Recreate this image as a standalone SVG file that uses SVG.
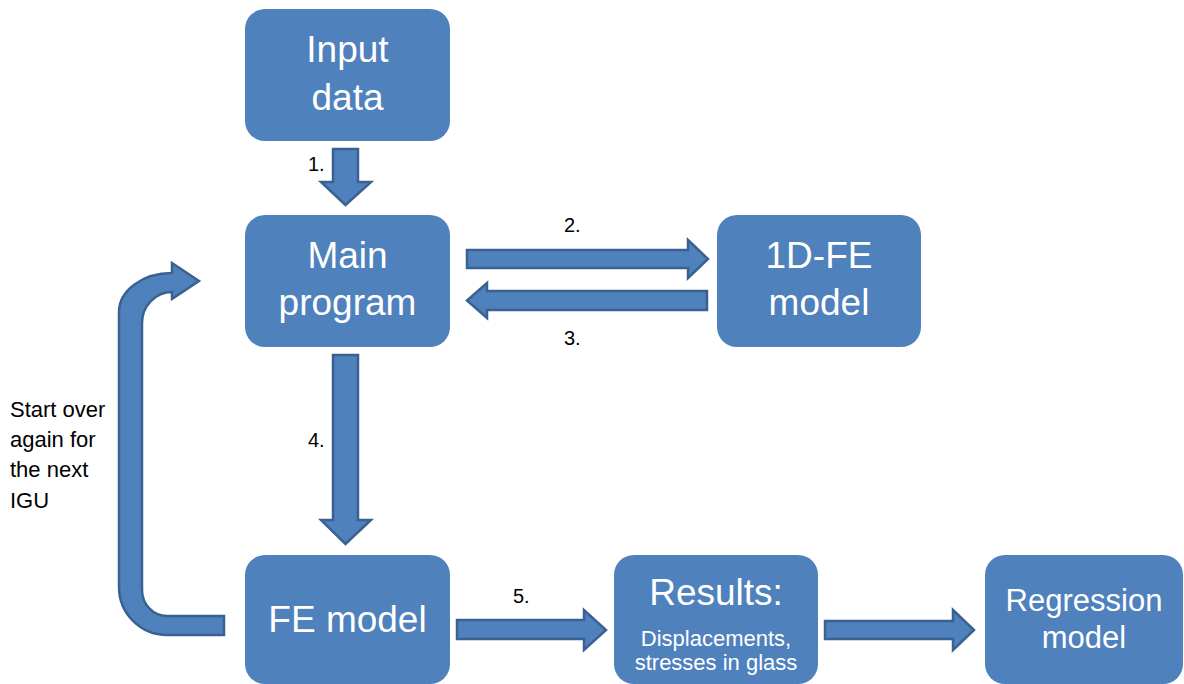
<svg xmlns="http://www.w3.org/2000/svg" width="1184" height="684" viewBox="0 0 1184 684">
<style>
.box{fill:#4F81BD;}
.big{font-family:"Liberation Sans",Arial,sans-serif;font-size:37px;fill:#fff;text-anchor:middle;}
.mid{font-family:"Liberation Sans",Arial,sans-serif;font-size:31px;fill:#fff;text-anchor:middle;}
.small{font-family:"Liberation Sans",Arial,sans-serif;font-size:22px;fill:#fff;text-anchor:middle;}
.lbl{font-family:"Liberation Sans",Arial,sans-serif;font-size:20px;fill:#000;}
.note{font-family:"Liberation Sans",Arial,sans-serif;font-size:22px;fill:#000;}
.arrow{fill:#4F81BD;stroke:#3A6190;stroke-width:2.5;stroke-linejoin:miter;}
</style>
<rect width="1184" height="684" fill="#fff"/>
<g id="connectors">
<polygon class="arrow" points="333,149 358,149 358,182 371,182 345.5,205 321,182 333,182"/>
<polygon class="arrow" points="467,250 688,250 688,240 708,259 688,278 688,268 467,268"/>
<polygon class="arrow" points="707,291 487,291 487,283 467,300.5 487,318 487,310 707,310"/>
<polygon class="arrow" points="333,355 358,355 358,520 371,520 345.5,544 321,520 333,520"/>
<polygon class="arrow" points="457,620 584,620 584,610 606,630 584,650 584,639 457,639"/>
<polygon class="arrow" points="825,621 953,621 953,610 974,630 953,650 953,639 825,639"/>
<path class="arrow" d="M 224 616 L 167 616 A 25 26 0 0 1 142 590 L 142 323 A 30 31 0 0 1 172 292 L 172 299 L 199 281 L 172 263 L 172 273 A 53 39 0 0 0 119 312 L 119 587 A 48 48 0 0 0 167 635 L 224 635 Z"/>
<text class="lbl" x="308" y="171">1.</text>
<text class="lbl" x="564" y="232">2.</text>
<text class="lbl" x="564" y="345">3.</text>
<text class="lbl" x="308" y="447">4.</text>
<text class="lbl" x="513" y="603">5.</text>
<text class="note" x="10" y="417">Start over</text>
<text class="note" x="10" y="447">again for</text>
<text class="note" x="10" y="477">the next</text>
<text class="note" x="10" y="508">IGU</text>
</g>
<g id="input-data">
<rect class="box" x="245" y="9" width="205" height="132" rx="20"/>
<text class="big" x="347.5" y="62">Input</text>
<text class="big" x="347.5" y="110">data</text>
</g>
<g id="main-program">
<rect class="box" x="245" y="215" width="205" height="132" rx="20"/>
<text class="big" x="347.5" y="268">Main</text>
<text class="big" x="347.5" y="315">program</text>
</g>
<g id="one-d-fe-model">
<rect class="box" x="717" y="215" width="204" height="132" rx="20"/>
<text class="big" x="819" y="268">1D-FE</text>
<text class="big" x="819" y="315">model</text>
</g>
<g id="fe-model">
<rect class="box" x="245" y="555" width="205" height="129" rx="20"/>
<text class="big" x="347.5" y="632">FE model</text>
</g>
<g id="results">
<rect class="box" x="614" y="555" width="204" height="129" rx="20"/>
<text class="big" x="716" y="605">Results:</text>
<text class="small" x="716" y="646">Displacements,</text>
<text class="small" x="716" y="670">stresses in glass</text>
</g>
<g id="regression-model">
<rect class="box" x="985" y="555" width="198" height="129" rx="20"/>
<text class="mid" x="1084" y="611">Regression</text>
<text class="mid" x="1084" y="648">model</text>
</g>
</svg>
